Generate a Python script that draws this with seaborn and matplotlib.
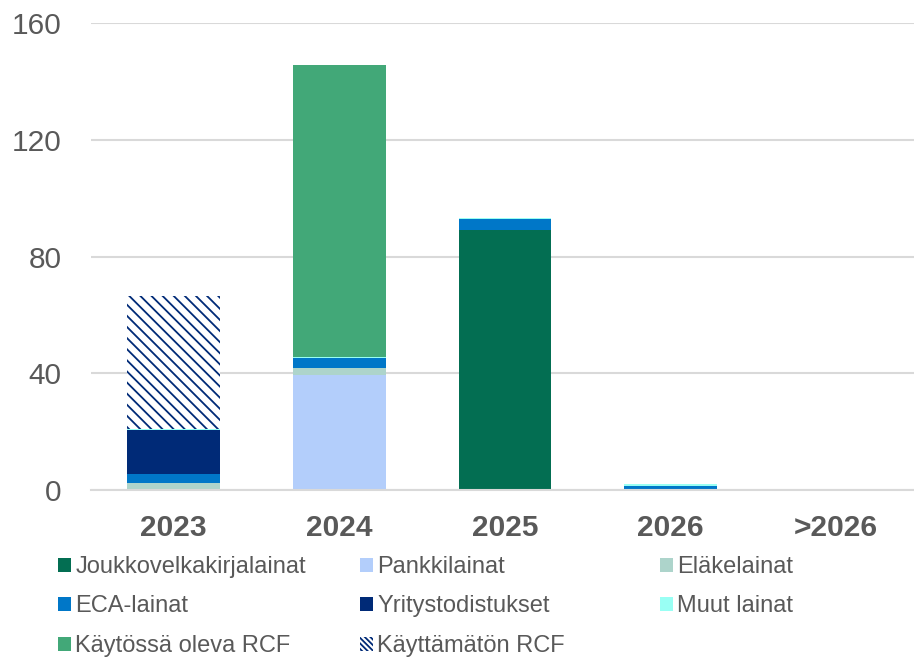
import seaborn as sns
import matplotlib.pyplot as plt
from matplotlib.patches import Patch
import numpy as np
import pandas as pd

vuodet = ['2023', '2024', '2025', '2026', '>2026']

sarjat = [
    'Joukkovelkakirjalainat',
    'Pankkilainat',
    'Eläkelainat',
    'ECA-lainat',
    'Yritystodistukset',
    'Muut lainat',
    'Käytössä oleva RCF',
    'Käyttämätön RCF',
]

joukkovelkakirjalainat = [0, 0, 89.2, 0, 0]
pankkilainat = [0, 39.4, 0, 0, 0]
elakelainat = [2.3, 2.3, 0, 0, 0]
eca_lainat = [3.2, 3.6, 3.5, 1.5, 0]
yritystodistukset = [15.1, 0, 0, 0, 0]
muut_lainat = [0.3, 0.3, 0.5, 0.5, 0]
kaytossa_rcf = [0, 100.0, 0, 0, 0]
kayttamaton_rcf = [45.6, 0, 0, 0, 0]

arvot = [joukkovelkakirjalainat, pankkilainat, elakelainat, eca_lainat,
         yritystodistukset, muut_lainat, kaytossa_rcf, kayttamaton_rcf]

varit = ['#036E52', '#B3CEFB', '#ADD4CB', '#0077C8',
         '#002A77', '#99FFF4', '#42A878', '#002A77']

harmaa = '#595959'
viiva = '#D9D9D9'
vinoviiva = chr(92) * 3

sns.set_style('white')
plt.rcParams['font.family'] = ['Liberation Sans', 'DejaVu Sans']
plt.rcParams['hatch.linewidth'] = 1.3
plt.rcParams['hatch.color'] = '#002A77'

df = pd.DataFrame(dict(zip(sarjat, arvot)), index=vuodet)
kumul = df.cumsum(axis=1)

fig = plt.figure(figsize=(9.14, 6.58), dpi=100)
ax = fig.add_axes([91 / 914, 168 / 658, 828 / 914, 467 / 658])

# pinotaan: piirretään ylin kerros ensin, alemmat päälle
for i in range(len(sarjat) - 1, -1, -1):
    nimi = sarjat[i]
    if nimi == 'Käyttämätön RCF':
        sns.barplot(x=vuodet, y=kumul[nimi].values, color='white', saturation=1,
                    width=0.56, edgecolor='#002A77', hatch=vinoviiva, linewidth=0, ax=ax)
    else:
        sns.barplot(x=vuodet, y=kumul[nimi].values, color=varit[i], saturation=1,
                    width=0.56, linewidth=0, ax=ax)

ax.set_ylim(0, 160)
ax.set_xlim(-0.5, 4.5)
ax.set_yticks([0, 40, 80, 120, 160])
ax.yaxis.grid(True, color=viiva, linewidth=1.5)
ax.set_axisbelow(True)
for s in ['top', 'right', 'left']:
    ax.spines[s].set_visible(False)
ax.spines['bottom'].set_color(viiva)
ax.spines['bottom'].set_linewidth(1.5)

ax.tick_params(axis='y', length=0, pad=21, labelsize=21.5, labelcolor=harmaa)
ax.tick_params(axis='x', which='major', length=0, pad=17, labelsize=21.5, labelcolor=harmaa)
ax.set_xticks(np.arange(-0.5, 5, 1), minor=True)
ax.tick_params(axis='x', which='minor', length=9, width=1.5, color=viiva)
for t in ax.get_xticklabels():
    t.set_fontweight('bold')
ax.set_xlabel('')
ax.set_ylabel('')

kahvat = []
for i, nimi in enumerate(sarjat):
    if nimi == 'Käyttämätön RCF':
        kahvat.append(Patch(facecolor='white', edgecolor='#002A77', hatch=vinoviiva * 2,
                            linewidth=0, label=nimi))
    else:
        kahvat.append(Patch(facecolor=varit[i], linewidth=0, label=nimi))

sarakkeet = [[0, 3, 6], [1, 4, 7], [2, 5]]
x_paikat = [58, 360, 660]
for sarake, xp in zip(sarakkeet, x_paikat):
    leg = fig.legend(handles=[kahvat[j] for j in sarake], loc='upper left',
                     bbox_to_anchor=(xp / 914, 1 - 556 / 658), frameon=False,
                     fontsize=17, handlelength=0.53, handleheight=0.53,
                     handletextpad=0.2, labelspacing=0.74, borderpad=0,
                     borderaxespad=0)
    for t in leg.get_texts():
        t.set_color(harmaa)

fig.savefig('out.png', dpi=100)
